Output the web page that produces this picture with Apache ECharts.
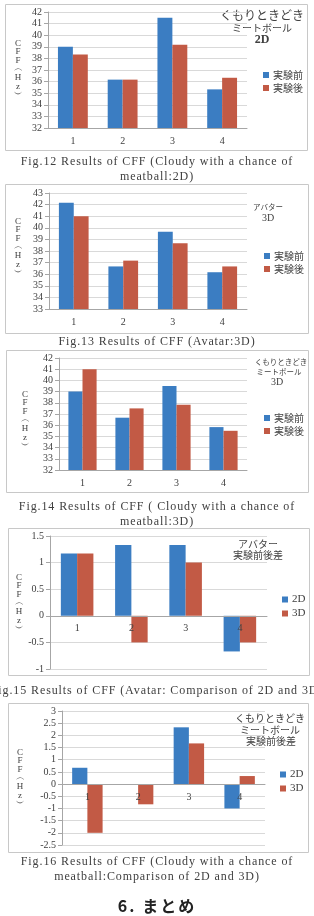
<!DOCTYPE html>
<html>
<head>
<meta charset="utf-8">
<script src="https://cdn.jsdelivr.net/npm/echarts@6/dist/echarts.min.js"></script>
<style>
  html, body { margin: 0; padding: 0; background: #fff; overflow: hidden; }
  #wrap { position: relative; width: 314px; height: 916px; }
  #main { position: absolute; left: 0; top: 0; width: 314px; height: 916px; }
  .cap {
    position: absolute; left: -40px; width: 394px; text-align: center;
    font-family: "Liberation Serif", serif; font-size: 12px; letter-spacing: 0.9px;
    color: #404040; line-height: 15px; white-space: nowrap;
  }
  .head {
    position: absolute; left: 0; width: 314px; text-align: center;
    font-family: "Noto Sans CJK JP", sans-serif; font-weight: bold; font-size: 16px;
    color: #222; letter-spacing: 2px;
  }
</style>
</head>
<body>
<div id="wrap">
  <div id="main"></div>
  <div class="cap" style="top:154px">Fig.12 Results of CFF (Cloudy with a chance of<br>meatball:2D)</div>
  <div class="cap" style="top:334px">Fig.13 Results of CFF (Avatar:3D)</div>
  <div class="cap" style="top:499px">Fig.14 Results of CFF ( Cloudy with a chance of<br>meatball:3D)</div>
  <div class="cap" style="top:683px">Fig.15 Results of CFF (Avatar: Comparison of 2D and 3D)</div>
  <div class="cap" style="top:854px">Fig.16 Results of CFF (Cloudy with a chance of<br>meatball:Comparison of 2D and 3D)</div>
  <div class="head" style="top:893px">6. まとめ</div>
</div>
<script>
// 横軸カテゴリ
const categories = ['1', '2', '3', '4'];

// Fig.12 くもりときどきミートボール 2D
const fig12Before = [39, 36.17, 41.5, 35.33];
const fig12After = [38.33, 36.17, 39.17, 36.33];
// Fig.13 アバター 3D
const fig13Before = [42.17, 36.67, 39.67, 36.17];
const fig13After = [41, 37.17, 38.67, 36.67];
// Fig.14 くもりときどきミートボール 3D
const fig14Before = [39, 36.67, 39.5, 35.83];
const fig14After = [41, 37.5, 37.83, 35.5];
// Fig.15 アバター 実験前後差
const fig15D2 = [1.17, 1.33, 1.33, -0.67];
const fig15D3 = [1.17, -0.5, 1, -0.5];
// Fig.16 くもりときどきミートボール 実験前後差
const fig16D2 = [0.67, 0, 2.33, -1];
const fig16D3 = [-2, -0.83, 1.67, 0.33];

// y軸の範囲 [min, max, interval]
const yRanges = [[32, 42, 1], [33, 43, 1], [32, 42, 1], [-1, 1.5, 0.5], [-2.5, 3, 0.5]];
const legendBeforeAfter = ['実験前', '実験後'];
const legendDim = ['2D', '3D'];

const BLUE = '#3b7dc2';
const RED = '#c25a45';
const SERIF = 'Liberation Serif';
const JP = 'Noto Sans CJK JP';

const grids = [
  { left: 48, top: 12, width: 199, height: 116 },
  { left: 49, top: 193, width: 198, height: 116 },
  { left: 59, top: 358, width: 188, height: 112 },
  { left: 50, top: 536, width: 217, height: 133 },
  { left: 62, top: 711, width: 203, height: 134 }
];

let xAxis = [], yAxis = [];
grids.forEach((g, i) => {
  const [ymin, ymax] = yRanges[i];
  // 負の値がある図はx軸を0の位置に置く（ラベルも一緒に動かす）
  const zeroOffset = ymin < 0 ? -g.height * (0 - ymin) / (ymax - ymin) : 0;
  xAxis.push({
    type: 'category', gridIndex: i, data: categories,
    offset: zeroOffset,
    axisLine: { onZero: false, lineStyle: { color: '#a6a6a6' } },
    axisTick: { length: 4, lineStyle: { color: '#a6a6a6' } },
    axisLabel: { color: '#404040', fontFamily: SERIF, fontSize: 10, margin: 8 },
    z: 5
  });
  yAxis.push({
    type: 'value', gridIndex: i,
    min: yRanges[i][0], max: yRanges[i][1], interval: yRanges[i][2],
    axisLine: { show: true, lineStyle: { color: '#a6a6a6' } },
    axisTick: { show: true, length: 4, lineStyle: { color: '#a6a6a6' } },
    axisLabel: { color: '#404040', fontFamily: SERIF, fontSize: 10, margin: 6 },
    splitLine: { lineStyle: { color: '#d9d9d9' } }
  });
});

function bar(name, data, idx, color) {
  return {
    name: name, type: 'bar', data: data,
    xAxisIndex: idx, yAxisIndex: idx,
    barGap: '0%', barCategoryGap: '40%',
    itemStyle: { color: color },
    animation: false
  };
}

const series = [
  bar('実験前', fig12Before, 0, BLUE), bar('実験後', fig12After, 0, RED),
  bar('実験前', fig13Before, 1, BLUE), bar('実験後', fig13After, 1, RED),
  bar('実験前', fig14Before, 2, BLUE), bar('実験後', fig14After, 2, RED),
  bar('2D', fig15D2, 3, BLUE), bar('3D', fig15D3, 3, RED),
  bar('2D', fig16D2, 4, BLUE), bar('3D', fig16D3, 4, RED)
];

function legend(names, left, top, font) {
  return {
    data: names, orient: 'vertical', left: left, top: top,
    icon: 'rect', itemWidth: 6, itemHeight: 6, itemGap: 3,
    selectedMode: false,
    textStyle: { color: '#404040', fontFamily: font, fontSize: font === JP ? 10 : 11, padding: [0, 0, 0, -1] }
  };
}

const legends = [
  legend(legendBeforeAfter, 258, 65, JP),
  legend(legendBeforeAfter, 259, 246, JP),
  legend(legendBeforeAfter, 259, 408, JP),
  legend(legendDim, 277, 589, SERIF),
  legend(legendDim, 275, 764, SERIF)
];

// 図中の注記テキスト
function note(text, x, y, size, opts) {
  return {
    type: 'text', x: x, y: y, silent: true,
    style: Object.assign({
      text: text, fill: '#404040', fontFamily: JP, fontSize: size,
      align: 'center', verticalAlign: 'middle'
    }, opts || {})
  };
}

// 縦書きの軸タイトル
const yTitle = 'C\nF\nF\n︵\nH\nz\n︶';
function vtitle(x, y) {
  return note(yTitle, x, y, 9, { fontFamily: SERIF, lineHeight: 8.6 });
}

function box(x, y, w, h) {
  return {
    type: 'rect', silent: true, z: -1,
    shape: { x: x + 0.5, y: y + 0.5, width: w, height: h },
    style: { fill: 'none', stroke: '#c8c8c8', lineWidth: 1 }
  };
}

const graphic = [
  box(5, 4, 302, 146), box(5, 184, 303, 149), box(6, 350, 302, 142),
  box(8, 528, 301, 147), box(8, 703, 300, 149),

  note('くもりときどき', 262, 15, 12),
  note('ミートボール', 262, 28, 10),
  note('2D', 262, 40, 12, { fontFamily: SERIF, fontWeight: 'bold' }),

  note('アバター', 268, 207, 7.5),
  note('3D', 268, 218, 10, { fontFamily: SERIF }),

  note('くもりときどき', 281, 362, 7.5),
  note('ミートボール', 279, 372, 7.5),
  note('3D', 277, 382, 10, { fontFamily: SERIF }),

  note('アバター', 258, 544, 10),
  note('実験前後差', 258, 555, 10),

  note('くもりときどき', 270, 718, 10),
  note('ミートボール', 270, 730, 10),
  note('実験前後差', 271, 741, 10),

  vtitle(18, 69), vtitle(18, 247), vtitle(25, 420), vtitle(19, 603), vtitle(20, 778)
];

const chart = echarts.init(document.getElementById('main'));
chart.setOption({
  animation: false,
  grid: grids,
  xAxis: xAxis,
  yAxis: yAxis,
  legend: legends,
  series: series,
  graphic: graphic
});
</script>
</body>
</html>
